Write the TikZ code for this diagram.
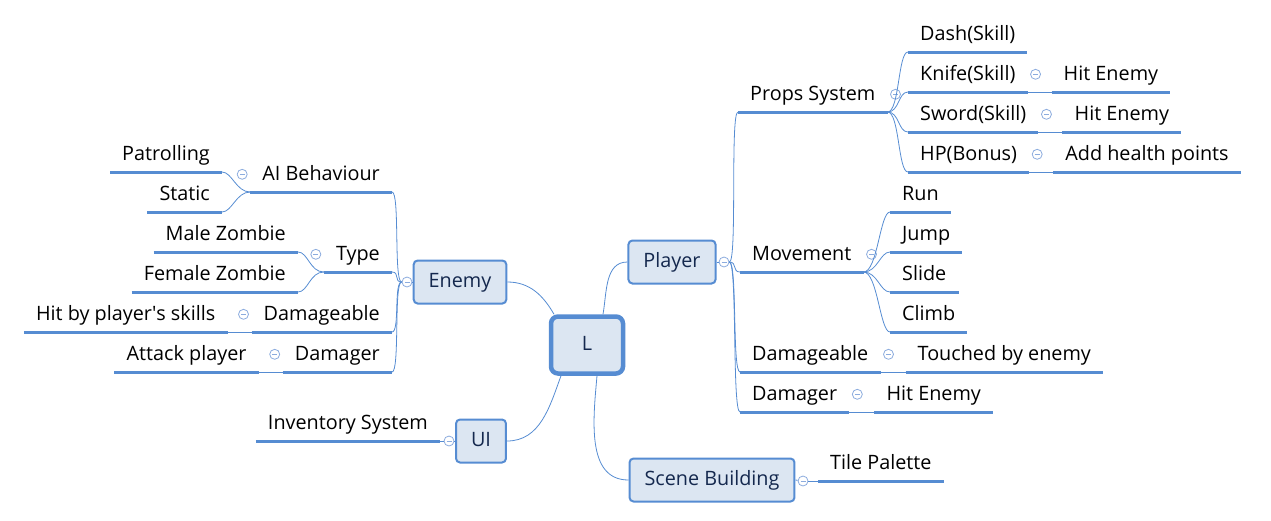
\documentclass[tikz,border=0pt]{standalone}
\usepackage{fontspec}
\newfontfamily\mapfont{Open Sans}
\definecolor{mline}{RGB}{86,140,210}
\definecolor{mfill}{RGB}{220,230,242}
\definecolor{mtext}{RGB}{20,40,78}
\definecolor{foldc}{RGB}{140,172,222}
\tikzset{
  topic/.style={draw=mline, fill=mfill, line width=2pt, rounded corners=4pt, minimum height=43pt, inner xsep=15pt, text height=14pt, text depth=4pt, text=mtext, font=\mapfont\fontsize{19.8}{23}\selectfont},
  root/.style={topic, line width=4.5pt, rounded corners=7pt, minimum width=72pt, minimum height=57pt},
  leaf/.style={inner xsep=12pt, inner ysep=0pt, text height=14pt, text depth=11pt, font=\mapfont\fontsize{19.8}{23}\selectfont, append after command={(\tikzlastnode.south west) edge[uline] (\tikzlastnode.south east)}},
  uline/.style={draw=mline, line width=3pt},
  branch/.style={draw=mline, line width=0.8pt},
  fold/.style={circle, draw=foldc, fill=white, line width=0.8pt, minimum size=10pt, inner sep=0pt, path picture={\draw[foldc, line width=0.8pt] ([xshift=-2.5pt]path picture bounding box.center) -- ([xshift=2.5pt]path picture bounding box.center);}}
}
\begin{document}
\begin{tikzpicture}[x=1pt,y=-1pt]
  \useasboundingbox (0,0) rectangle (1271,520);
  \node[root] (L) at (587,345) {L};
  \node[topic] (pl) at (672,262) {Player};
  \node[topic] (en) at (460,282) {Enemy};
  \node[topic] (ui) at (481,441) {UI};
  \node[topic] (sc) at (712,480) {Scene Building};
  \draw[branch] ([xshift=16pt]L.north) to[out=80,in=180] (pl.west);
  \draw[branch] ([xshift=-33pt]L.north) to[out=120,in=0] (en.east);
  \draw[branch] ([xshift=-26pt]L.south) to[out=-110,in=0] (ui.east);
  \draw[branch] ([xshift=10pt]L.south) to[out=-95,in=180] (sc.west);

  \node[fold] (plf) at (724,262) {};
  \draw[branch] (pl.east) -- (plf);
  \node[leaf, anchor=south west] (ps) at (738,112) {Props System};
  \node[leaf, anchor=south west] (mv) at (740,272) {Movement};
  \node[leaf, anchor=south west] (pdg) at (740,372) {Damageable};
  \node[leaf, anchor=south west] (pdm) at (740,412) {Damager};
  \foreach \c in {ps,mv,pdg,pdm}
    \draw[branch] (plf.east) .. controls +(8,0) and +(-8,0) .. (\c.south west);

  \node[fold] (psf) at ([xshift=8pt,yshift=5pt]ps.east) {};
  \node[leaf, anchor=south west] (ds) at (908,52) {Dash(Skill)};
  \node[leaf, anchor=south west] (kn) at (908,92) {Knife(Skill)};
  \node[leaf, anchor=south west] (sw) at (908,132) {Sword(Skill)};
  \node[leaf, anchor=south west] (hp) at (908,172) {HP(Bonus)};
  \foreach \c in {ds,kn,sw,hp}
    \draw[branch] (ps.south east) .. controls +(12,0) and +(-10,0) .. (\c.south west);
  \node[fold] (knf) at ([xshift=8pt,yshift=5pt]kn.east) {};
  \node[leaf, anchor=south west] (knh) at ([xshift=24pt]kn.south east) {Hit Enemy};
  \draw[branch] (kn.south east) -- (knh.south west);
  \node[fold] (swf) at ([xshift=8pt,yshift=5pt]sw.east) {};
  \node[leaf, anchor=south west] (swh) at ([xshift=24pt]sw.south east) {Hit Enemy};
  \draw[branch] (sw.south east) -- (swh.south west);
  \node[fold] (hpf) at ([xshift=8pt,yshift=5pt]hp.east) {};
  \node[leaf, anchor=south west] (hpa) at ([xshift=24pt]hp.south east) {Add health points};
  \draw[branch] (hp.south east) -- (hpa.south west);

  \node[fold] (mvf) at ([xshift=8pt,yshift=5pt]mv.east) {};
  \node[leaf, anchor=south west] (rn) at (890,212) {Run};
  \node[leaf, anchor=south west] (jp) at (890,252) {Jump};
  \node[leaf, anchor=south west] (sl) at (890,292) {Slide};
  \node[leaf, anchor=south west] (cl) at (890,332) {Climb};
  \foreach \c in {rn,jp,sl,cl}
    \draw[branch] (mv.south east) .. controls +(14,0) and +(-10,0) .. (\c.south west);

  \node[fold] (pdgf) at ([xshift=8pt,yshift=5pt]pdg.east) {};
  \node[leaf, anchor=south west] (te) at ([xshift=25pt]pdg.south east) {Touched by enemy};
  \draw[branch] (pdg.south east) -- (te.south west);
  \node[fold] (pdmf) at ([xshift=8pt,yshift=5pt]pdm.east) {};
  \node[leaf, anchor=south west] (pdh) at ([xshift=25pt]pdm.south east) {Hit Enemy};
  \draw[branch] (pdm.south east) -- (pdh.south west);

  \node[fold] (enf) at (407,282) {};
  \draw[branch] (en.west) -- (enf);
  \node[leaf, anchor=south east] (ai) at (392,192) {AI Behaviour};
  \node[leaf, anchor=south east] (ty) at (392,272) {Type};
  \node[leaf, anchor=south east] (edg) at (392,332) {Damageable};
  \node[leaf, anchor=south east] (edm) at (392,372) {Damager};
  \foreach \c in {ai,ty,edg,edm}
    \draw[branch] (enf.west) .. controls +(-8,0) and +(8,0) .. (\c.south east);

  \node[fold] (aif) at ([xshift=-8pt,yshift=5pt]ai.west) {};
  \node[leaf, anchor=south east] (pt) at (222,172) {Patrolling};
  \node[leaf, anchor=south east] (st) at (222,212) {Static};
  \foreach \c in {pt,st}
    \draw[branch] (ai.south west) .. controls +(-14,0) and +(10,0) .. (\c.south east);
  \node[fold] (tyf) at ([xshift=-8pt,yshift=5pt]ty.west) {};
  \node[leaf, anchor=south east] (mz) at (298,252) {Male Zombie};
  \node[leaf, anchor=south east] (fz) at (298,292) {Female Zombie};
  \foreach \c in {mz,fz}
    \draw[branch] (ty.south west) .. controls +(-14,0) and +(10,0) .. (\c.south east);

  \node[fold] (edgf) at ([xshift=-8pt,yshift=5pt]edg.west) {};
  \node[leaf, anchor=south east] (hs) at ([xshift=-24pt]edg.south west) {Hit by player\textquotesingle s skills};
  \draw[branch] (edg.south west) -- (hs.south east);
  \node[fold] (edmf) at ([xshift=-8pt,yshift=5pt]edm.west) {};
  \node[leaf, anchor=south east] (ap) at ([xshift=-24pt]edm.south west) {Attack player};
  \draw[branch] (edm.south west) -- (ap.south east);

  \node[fold] (uif) at (449,441) {};
  \draw[branch] (ui.west) -- (uif);
  \node[leaf, anchor=south east] (inv) at (440,441) {Inventory System};
  \draw[branch] (uif.west) -- (inv.south east);

  \node[fold] (scf) at (803,481) {};
  \draw[branch] (sc.east) -- (scf);
  \node[leaf, anchor=south west] (tp) at (818,481) {Tile Palette};
  \draw[branch] (scf.east) -- (tp.south west);
\end{tikzpicture}
\end{document}
